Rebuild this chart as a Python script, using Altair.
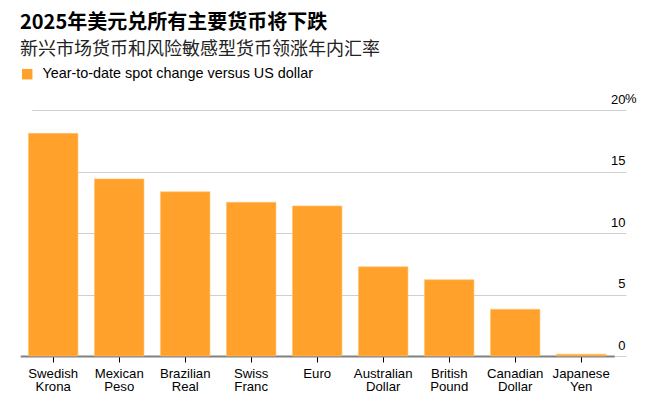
import altair as alt
import pandas as pd

currencies = ["Swedish\nKrona", "Mexican\nPeso", "Brazilian\nReal", "Swiss\nFranc", "Euro",
              "Australian\nDollar", "British\nPound", "Canadian\nDollar", "Japanese\nYen"]
changes = [18.1, 14.4, 13.35, 12.5, 12.2, 7.25, 6.2, 3.8, 0.15]
y_ticks = [0, 5, 10, 15, 20]
series_name = "Year-to-date spot change versus US dollar"

title_text = "2025年美元兑所有主要货币将下跌"
subtitle_text = "新兴市场货币和风险敏感型货币领涨年内汇率"

ORANGE = "#FFA12B"
FONT = "Liberation Sans"
CJK = "Noto Sans CJK SC"

df = pd.DataFrame({"currency": currencies, "change": changes, "series": series_name})
pct_df = pd.DataFrame({"v": [max(y_ticks)], "t": ["%"]})

x_enc = alt.X("currency:N", sort=currencies,
              scale=alt.Scale(range=[0.2, 594.2], paddingInner=0.25, paddingOuter=0.125),
              axis=alt.Axis(title=None, labelAngle=0, labelExpr="split(datum.label, '\\n')",
                            labelFont=FONT, labelFontSize=13.2, labelColor="#000",
                            labelLineHeight=13.5, labelPadding=5,
                            domain=True, domainColor="#808080", domainWidth=2,
                            ticks=True, tickColor="#000", tickSize=6, tickWidth=1,
                            grid=False))

y_scale = alt.Scale(domain=[0, 20], nice=False)
y_axis = alt.Axis(title=None, orient="right", values=y_ticks, grid=True,
                  gridColor="#cfcfcf", gridWidth=1, domain=False, ticks=False,
                  labelAlign="right", labelPadding=-1, labelBaseline="alphabetic",
                  labelOffset=-7, labelFont=FONT, labelFontSize=13, labelColor="#000")

bars = alt.Chart(df).mark_bar(stroke="#FFC46E", strokeWidth=0.6).encode(
    x=x_enc,
    y=alt.Y("change:Q", scale=y_scale, axis=y_axis),
    color=alt.Color("series:N", scale=alt.Scale(range=[ORANGE]),
                    legend=alt.Legend(title=None, orient="none", legendX=0, legendY=-43,
                                      symbolType="square", symbolSize=110,
                                      symbolStrokeWidth=0, labelFont=FONT,
                                      labelFontSize=14.4, labelColor="#000",
                                      labelLimit=500, labelOffset=8)),
)

pct = alt.Chart(pct_df).mark_text(align="left", baseline="alphabetic", dy=-7, dx=-1,
                                  font=FONT, fontSize=13, color="#000").encode(
    x=alt.value(606),
    y=alt.Y("v:Q", scale=y_scale, axis=y_axis),
    text="t:N",
)

chart = alt.layer(bars, pct).properties(
    width=606, height=246,
    view=alt.ViewBackground(stroke="transparent", strokeWidth=0, strokeOpacity=0),
    title=alt.TitleParams(text=title_text, subtitle=subtitle_text, anchor="start",
                          font=CJK, fontSize=20, fontWeight="bold", color="#000",
                          subtitleFont=CJK, subtitleFontSize=18, subtitleColor="#222",
                          subtitlePadding=8, offset=8),
    padding={"left": 12, "top": 5, "right": 5, "bottom": 5},
).configure(background="white")

chart.save("out.html", embed_options={"renderer": "svg", "actions": False})
